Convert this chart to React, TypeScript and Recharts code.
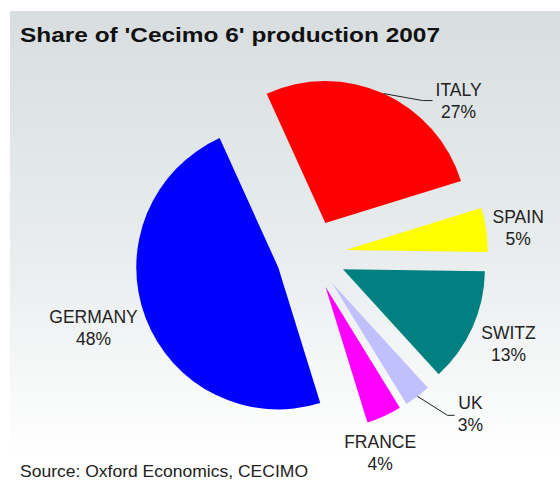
import React from 'react';
import { PieChart, Pie, Cell } from 'recharts';

const countries = ['ITALY', 'SPAIN', 'SWITZ', 'UK', 'FRANCE', 'GERMANY'];
const shares = [27, 5, 13, 3, 4, 48];
const colors = ['#ff0000', '#ffff00', '#008080', '#c0c0ff', '#ff00ff', '#0000ff'];

const data = countries.map((name, i) => ({ name, value: shares[i] }));

const W = 560;
const H = 482;
const FONT = '"Liberation Sans", Arial, sans-serif';

// pie geometry (Excel style exploded pie)
const START = 114.4;
const CX = 311;
const CY = 255;
const R = 142;
const EXPLODE = 35;

// label block centre, relative to the outer midpoint of its slice
const labelOffset: Record<string, [number, number]> = {
  ITALY: [75, 7],
  SPAIN: [32, -2],
  SWITZ: [36, 16],
  UK: [53, 18],
  FRANCE: [-4, 37],
  GERMANY: [-52, 10],
};
// leader lines: elbow dx, end dx (relative to label centre), dy
const leaders: Record<string, [number, number, number]> = {
  ITALY: [-36, -26, 0],
  UK: [-23, -16, 1],
};

const total = shares.reduce((a, b) => a + b, 0);
const midAngles = shares.map((v, i) => {
  const before = shares.slice(0, i).reduce((a, b) => a + b, 0);
  return START - ((before + v / 2) / total) * 360;
});

const RAD = Math.PI / 180;

const makeLabel = (idx: number) => (props: any) => {
  if (props.index !== idx) return null;
  const { cx, cy, midAngle, outerRadius, name, value } = props;
  const ax = cx + outerRadius * Math.cos(-midAngle * RAD);
  const ay = cy + outerRadius * Math.sin(-midAngle * RAD);
  const [ox, oy] = labelOffset[name];
  const lx = ax + ox;
  const ly = ay + oy;
  const ld = leaders[name];
  return (
    <g>
      {ld && (
        <polyline
          points={`${ax},${ay} ${lx + ld[0]},${ly + ld[2]} ${lx + ld[1]},${ly + ld[2]}`}
          fill="none"
          stroke="#222"
          strokeWidth={1}
        />
      )}
      <text x={lx} y={ly - 11} textAnchor="middle" dominantBaseline="central"
        fontFamily={FONT} fontSize={17.5} fill="#222">{name}</text>
      <text x={lx} y={ly + 11} textAnchor="middle" dominantBaseline="central"
        fontFamily={FONT} fontSize={17.5} fill="#222">{`${value}%`}</text>
    </g>
  );
};

export default function App() {
  return (
    <div style={{ position: 'absolute', left: 0, top: 0, width: W, height: H, background: '#fff' }}>
      <svg width={W} height={H} style={{ position: 'absolute', left: 0, top: 0 }}>
        <defs>
          <linearGradient id="bg" x1="0" y1="0" x2="0" y2="1">
            <stop offset="0%" stopColor="#d8dee0" />
            <stop offset="55%" stopColor="#e9edee" />
            <stop offset="100%" stopColor="#ffffff" />
          </linearGradient>
        </defs>
        <rect x={10} y={11} width={W - 10} height={448} fill="url(#bg)" />
        <text x={20} y={42} fontFamily={FONT} fontSize={21} fontWeight="bold" fill="#111"
          textLength={420} lengthAdjust="spacingAndGlyphs">
          Share of 'Cecimo 6' production 2007
        </text>
        <text x={20} y={477} fontFamily={FONT} fontSize={17} fill="#222"
          textLength={288} lengthAdjust="spacingAndGlyphs">
          Source: Oxford Economics, CECIMO
        </text>
      </svg>
      <div style={{ position: 'absolute', left: 0, top: 0 }}>
        <PieChart width={W} height={H} margin={{ top: 0, right: 0, bottom: 0, left: 0 }}>
          {countries.map((c, idx) => (
            <Pie
              key={c}
              data={data}
              dataKey="value"
              nameKey="name"
              cx={CX + EXPLODE * Math.cos(midAngles[idx] * RAD)}
              cy={CY - EXPLODE * Math.sin(midAngles[idx] * RAD)}
              outerRadius={R}
              startAngle={START}
              endAngle={START - 360}
              stroke="none"
              label={makeLabel(idx)}
              labelLine={false}
              isAnimationActive={false}
            >
              {data.map((d, j) => (
                <Cell key={d.name} fill={j === idx ? colors[j] : 'none'} stroke="none" />
              ))}
            </Pie>
          ))}
        </PieChart>
      </div>
    </div>
  );
}
